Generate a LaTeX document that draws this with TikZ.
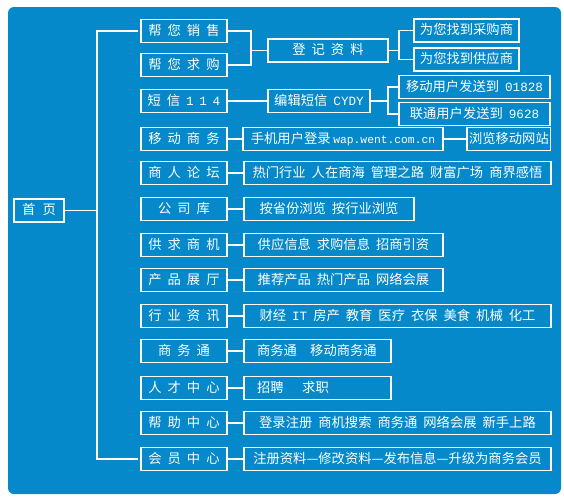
\documentclass[tikz,border=0pt]{standalone}
\usepackage{fontspec}
\setmainfont{Noto Sans CJK SC}
\newfontfamily\lat[Scale=0.95]{Liberation Mono}
\newfontfamily\latsm[Scale=0.85]{Liberation Mono}
\usepackage{xcolor}
\definecolor{PortalBlue}{HTML}{0689CA}
\usepackage{tikz}
\usetikzlibrary{positioning,calc}
\newcommand{\gp}{\hspace{0.45em}}

\begin{document}
\begin{tikzpicture}[x=1pt,y=-1pt,
    menu/.style={draw=white,line width=1.2pt,text=white,minimum width=86pt,minimum height=23pt,inner sep=2pt,outer sep=0pt,text height=10.5pt,text depth=2pt,font=\fontsize{13.3}{16}\selectfont},
    item/.style={menu,minimum width=#1},
    lefty/.style={text width=#1,align=left,inner xsep=13pt},
    link/.style={draw=white,line width=1.5pt},
    stub/.style={draw=white,line width=2.6pt}]
    \useasboundingbox (0,0) rectangle (564,496);
    \fill[PortalBlue,rounded corners=6pt] (8,7) rectangle (561,494);

    % home and menu column
    \node[menu,minimum width=50pt] (home) at (39,210.5) {首\hspace{0.55em}页};
    \node[menu] (sell) at (184,31) {帮\gp 您\gp 销\gp 售};
    \node[menu,below=11pt of sell] (buy) {帮\gp 您\gp 求\gp 购};
    \node[menu,below=13pt of buy] (sms) {短\gp 信\gp{\lat 1\gp 1\gp 4}};
    \node[menu,below=15pt of sms] (mobile) {移\gp 动\gp 商\gp 务};
    \node[menu,below=11pt of mobile] (forum) {商\gp 人\gp 论\gp 坛};
    \node[menu,below=13pt of forum] (company) {公\gp 司\gp 库};
    \node[menu,below=13pt of company] (market) {供\gp 求\gp 商\gp 机};
    \node[menu,below=12pt of market] (expo) {产\gp 品\gp 展\gp 厅};
    \node[menu,below=13pt of expo] (news) {行\gp 业\gp 资\gp 讯};
    \node[menu,below=12pt of news] (biz) {商\gp 务\gp 通};
    \node[menu,below=14pt of biz] (talent) {人\gp 才\gp 中\gp 心};
    \node[menu,below=12pt of talent] (help) {帮\gp 助\gp 中\gp 心};
    \node[menu,below=13pt of help] (member) {会\gp 员\gp 中\gp 心};

    % sub items
    \node[item=120pt,right=41pt of sell,yshift=-19.5pt] (reg) {登\gp 记\gp 资\gp 料};
    \node[item=105pt,right=26pt of reg,yshift=20pt] (buyer) {为您找到采购商};
    \node[item=105pt,right=26pt of reg,yshift=-9pt] (supplier) {为您找到供应商};
    \node[item=102pt,right=41pt of sms] (cydy) {编辑短信\gp{\lat CYDY}};
    \node[item=151pt,right=29pt of cydy,yshift=14pt] (cm) {移动用户发送到\gp{\lat 01828}};
    \node[item=151pt,right=29pt of cydy,yshift=-13pt] (cu) {联通用户发送到\gp{\lat 9628}};
    \node[item=200pt,right=16pt of mobile] (wap) {手机用户登录\hspace{0.2em}{\latsm wap.went.com.cn}};
    \node[item=83pt,right=24pt of wap] (browse) {浏览移动网站};
    \node[item=307pt,right=17pt of forum] (forumitem) {热门行业\gp 人在商海\gp 管理之路\gp 财富广场\gp 商界感悟};
    \node[item=170pt,right=17pt of company] (companyitem) {按省份浏览\gp 按行业浏览};
    \node[item=199pt,right=17pt of market] (marketitem) {供应信息\gp 求购信息\gp 招商引资};
    \node[item=199pt,right=17pt of expo] (expoitem) {推荐产品\gp 热门产品\gp 网络会展};
    \node[item=307pt,right=17pt of news] (newsitem) {财经\gp{\lat IT}\gp 房产\gp 教育\gp 医疗\gp 衣保\gp 美食\gp 机械\gp 化工};
    \node[item=147pt,lefty=121pt,right=17pt of biz] (bizitem) {商务通\hspace{1em}移动商务通};
    \node[item=147pt,lefty=121pt,right=17pt of talent] (talentitem) {招聘\hspace{1.4em}求职};
    \node[item=307pt,right=17pt of help] (helpitem) {登录注册\gp 商机搜索\gp 商务通\gp 网络会展\gp 新手上路};
    \node[item=307pt,right=17pt of member] (memberitem) {注册资料—修改资料—发布信息—升级为商务会员};

    % trunk
    \coordinate (trunk) at (97,0);
    \draw[link,shorten <=3pt,shorten >=3pt] (sell.west) -- (sell.west -| trunk) -- (member.west -| trunk) -- (member.west);
    \draw[link] (home.east) -- (home.east -| trunk);

    % brackets
    \draw[link] (sell.east) -| ([xshift=-17pt]reg.west) |- (buy.east);
    \draw[link] ([xshift=-17pt]reg.west) -- (reg.west);
    \draw[link] (buyer.west) -| ([xshift=11pt]reg.east) |- (supplier.west);
    \draw[link] (reg.east) -- ([xshift=11pt]reg.east);
    \draw[link] (sms) -- (cydy);
    \draw[link] (cm.west) -| ([xshift=18pt]cydy.east) |- (cu.west);
    \draw[link] (cydy.east) -- ([xshift=18pt]cydy.east);

    % stubs
    \draw[stub] (mobile) -- (wap);
    \draw[stub] (wap) -- (browse);
    \draw[stub] (forum) -- (forumitem);
    \draw[stub] (company) -- (companyitem);
    \draw[stub] (market) -- (marketitem);
    \draw[stub] (expo) -- (expoitem);
    \draw[stub] (news) -- (newsitem);
    \draw[stub] (biz) -- (bizitem);
    \draw[stub] (talent) -- (talentitem);
    \draw[stub] (help) -- (helpitem);
    \draw[stub] (member) -- (memberitem);
  \end{tikzpicture}
\end{document}
